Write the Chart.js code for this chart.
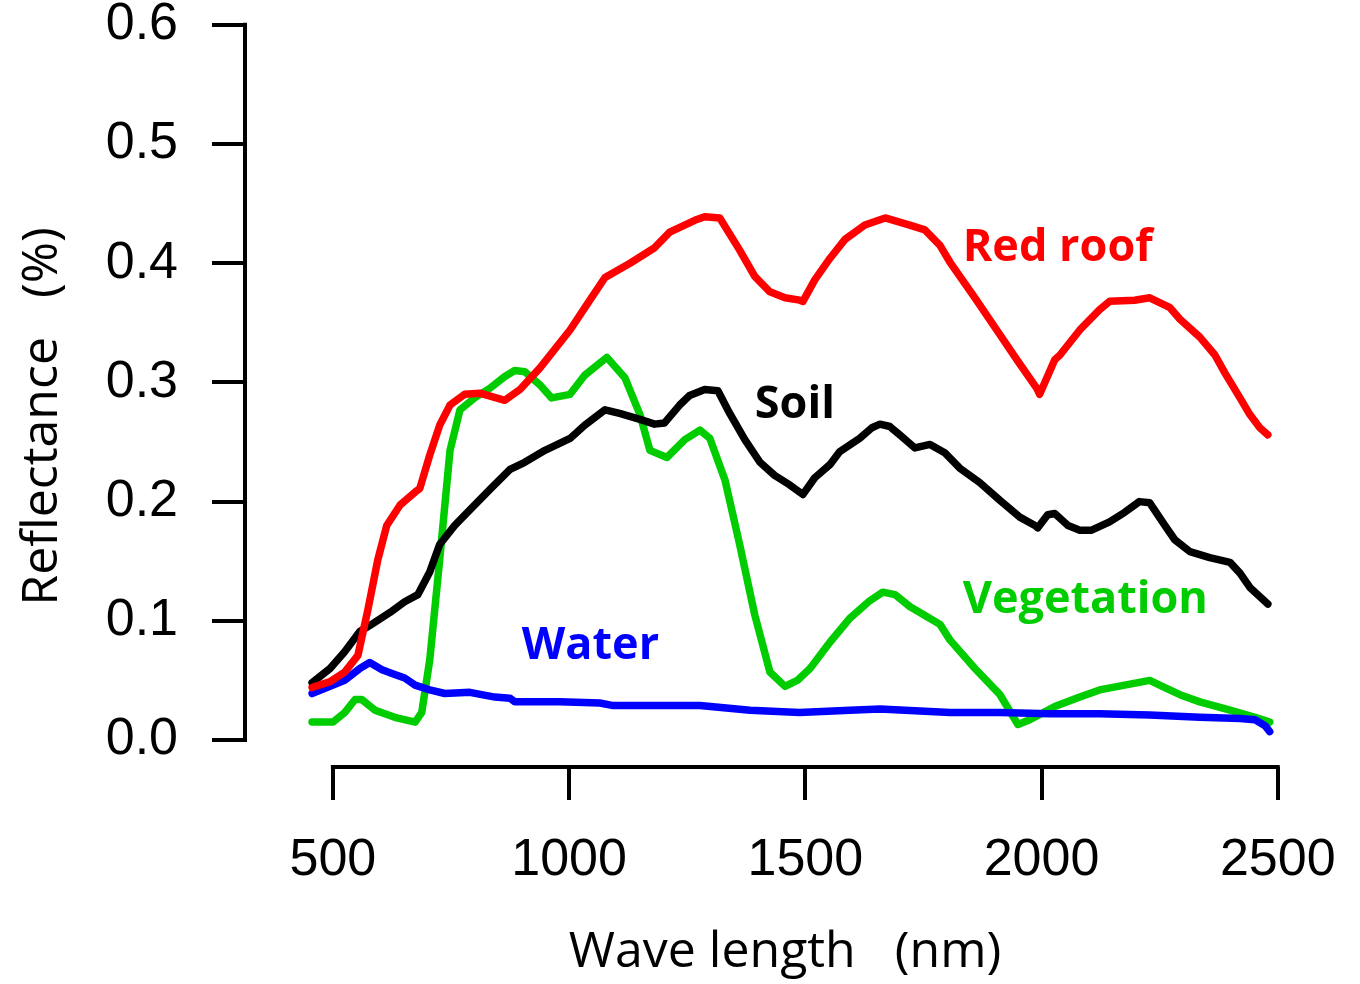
<!DOCTYPE html>
<html>
<head>
<meta charset="utf-8">
<script src="https://cdn.jsdelivr.net/npm/chart.js@4.4.1/dist/chart.umd.min.js"></script>
<style>
    html, body { margin: 0; padding: 0; background: #fff; }
    #wrap { position: relative; width: 1360px; height: 984px; }
</style>
</head>
<body>
<div id="wrap"><canvas id="chart"></canvas></div>
<script>
// wavelengths (nm) and reflectance
const redRoofNm = [ 456, 494, 525, 553, 574, 595, 614, 642, 674, 684, 705, 726, 748, 779, 811, 864, 896, 938, 1002, 1044, 1076, 1129, 1181, 1213, 1266, 1287, 1319, 1361, 1393, 1425, 1457, 1488, 1495, 1520, 1552, 1584, 1626, 1669, 1721, 1753, 1785, 1806, 1859, 1912, 1948, 1990, 1996, 2028, 2039, 2081, 2123, 2144, 2197, 2229, 2271, 2293, 2335, 2367, 2388, 2420, 2441, 2462, 2479 ];
const redRoofRefl = [ 0.044, 0.049, 0.057, 0.071, 0.109, 0.151, 0.180, 0.197, 0.208, 0.211, 0.239, 0.264, 0.281, 0.290, 0.291, 0.285, 0.294, 0.312, 0.344, 0.369, 0.388, 0.400, 0.413, 0.426, 0.436, 0.439, 0.438, 0.411, 0.389, 0.376, 0.371, 0.369, 0.368, 0.386, 0.404, 0.420, 0.432, 0.438, 0.432, 0.428, 0.415, 0.401, 0.371, 0.340, 0.319, 0.295, 0.290, 0.319, 0.323, 0.344, 0.361, 0.368, 0.369, 0.371, 0.363, 0.353, 0.338, 0.323, 0.308, 0.287, 0.273, 0.262, 0.256 ];

const soilNm = [ 456, 494, 525, 557, 578, 621, 652, 680, 705, 726, 758, 790, 832, 875, 906, 949, 1002, 1033, 1076, 1107, 1150, 1181, 1202, 1234, 1255, 1287, 1315, 1340, 1372, 1404, 1435, 1467, 1495, 1520, 1552, 1573, 1615, 1641, 1658, 1679, 1700, 1732, 1764, 1795, 1827, 1869, 1912, 1954, 1986, 1992, 2013, 2028, 2056, 2081, 2106, 2144, 2176, 2207, 2229, 2261, 2282, 2314, 2356, 2399, 2420, 2441, 2479 ];
const soilRefl = [ 0.048, 0.060, 0.074, 0.091, 0.096, 0.107, 0.116, 0.122, 0.141, 0.164, 0.180, 0.193, 0.210, 0.227, 0.233, 0.243, 0.253, 0.264, 0.277, 0.274, 0.269, 0.265, 0.266, 0.281, 0.289, 0.294, 0.293, 0.274, 0.252, 0.233, 0.222, 0.214, 0.206, 0.220, 0.231, 0.242, 0.253, 0.262, 0.265, 0.263, 0.256, 0.245, 0.248, 0.241, 0.228, 0.216, 0.201, 0.187, 0.180, 0.178, 0.189, 0.190, 0.180, 0.176, 0.176, 0.183, 0.191, 0.200, 0.199, 0.180, 0.168, 0.158, 0.153, 0.149, 0.140, 0.128, 0.114 ];

const waterNm = [ 456, 494, 525, 557, 578, 604, 631, 652, 674, 705, 737, 790, 843, 875, 885, 980, 1065, 1091, 1277, 1383, 1488, 1594, 1658, 1806, 1912, 2018, 2123, 2229, 2335, 2420, 2452, 2473, 2483 ];
const waterRefl = [ 0.039, 0.045, 0.050, 0.060, 0.065, 0.059, 0.055, 0.052, 0.046, 0.042, 0.039, 0.040, 0.036, 0.035, 0.032, 0.032, 0.031, 0.029, 0.029, 0.025, 0.023, 0.025, 0.026, 0.023, 0.023, 0.022, 0.022, 0.021, 0.019, 0.018, 0.017, 0.012, 0.007 ];

const vegNm = [ 456, 500, 525, 547, 561, 589, 631, 674, 688, 705, 726, 748, 769, 800, 832, 864, 885, 906, 938, 963, 1002, 1033, 1080, 1118, 1150, 1171, 1207, 1245, 1277, 1298, 1330, 1361, 1393, 1425, 1457, 1483, 1510, 1552, 1594, 1637, 1664, 1690, 1721, 1764, 1785, 1806, 1859, 1912, 1950, 1975, 2028, 2081, 2123, 2176, 2229, 2261, 2293, 2335, 2399, 2452, 2483 ];
const vegRefl = [ 0.015, 0.015, 0.023, 0.034, 0.034, 0.025, 0.019, 0.015, 0.023, 0.067, 0.151, 0.243, 0.277, 0.287, 0.295, 0.305, 0.310, 0.309, 0.298, 0.287, 0.290, 0.306, 0.321, 0.304, 0.273, 0.243, 0.237, 0.252, 0.260, 0.253, 0.218, 0.164, 0.105, 0.057, 0.045, 0.050, 0.060, 0.082, 0.102, 0.117, 0.124, 0.122, 0.112, 0.102, 0.097, 0.084, 0.060, 0.038, 0.013, 0.017, 0.028, 0.036, 0.042, 0.046, 0.050, 0.044, 0.038, 0.032, 0.025, 0.019, 0.015 ];

const xTicks = [ 500, 1000, 1500, 2000, 2500 ];
const yTicks = [ 0, 0.1, 0.2, 0.3, 0.4, 0.5, 0.6 ];

// in-plot series names, anchored at (nm, reflectance)
const seriesNames = [ 'Red roof', 'Soil', 'Water', 'Vegetation' ];
const nameNm = [ 1833, 1393, 900, 1833 ];
const nameRefl = [ 0.413, 0.281, 0.079, 0.117 ];
const nameColors = [ '#ff0000', '#000000', '#0000ff', '#00cc00' ];

const toPoints = ( xs, ys ) => xs.map( ( x, i ) => ( { x: x, y: ys[ i ] } ) );

Chart.defaults.animation = false;
Chart.defaults.responsive = true;
Chart.defaults.maintainAspectRatio = false;
Chart.defaults.color = '#000';
Chart.defaults.plugins.legend.display = false;
Chart.defaults.plugins.tooltip.enabled = false;

const lineStyle = {
    borderWidth: 7.5,
    pointRadius: 0,
    tension: 0,
    borderJoinStyle: 'round',
    borderCapStyle: 'round',
    fill: false
};

// R-style detached axis lines, only from first to last tick
const axisLines = {
    id: 'axisLines',
    afterDraw ( chart ) {
        const { ctx, chartArea, scales: { x, y } } = chart;
        ctx.save();
        ctx.strokeStyle = '#000';
        ctx.lineWidth = 4;
        ctx.lineCap = 'square';
        ctx.beginPath();
        ctx.moveTo( chartArea.left, y.getPixelForValue( yTicks[ 0 ] ) );
        ctx.lineTo( chartArea.left, y.getPixelForValue( yTicks[ yTicks.length - 1 ] ) );
        ctx.moveTo( x.getPixelForValue( xTicks[ 0 ] ), chartArea.bottom );
        ctx.lineTo( x.getPixelForValue( xTicks[ xTicks.length - 1 ] ), chartArea.bottom );
        ctx.stroke();
        ctx.restore();
    }
};

const seriesLabels = {
    id: 'seriesLabels',
    afterDatasetsDraw ( chart ) {
        const { ctx, scales: { x, y } } = chart;
        ctx.save();
        ctx.font = 'bold 45px "Open Sans", sans-serif';
        ctx.textAlign = 'left';
        ctx.textBaseline = 'middle';
        seriesNames.forEach( ( name, i ) => {
            ctx.fillStyle = nameColors[ i ];
            ctx.fillText( name, x.getPixelForValue( nameNm[ i ] ), y.getPixelForValue( nameRefl[ i ] ) );
        } );
        ctx.restore();
    }
};

new Chart( document.getElementById( 'chart' ), {
    type: 'line',
    data: {
        datasets: [ {
            label: 'Red roof',
            data: toPoints( redRoofNm, redRoofRefl ),
            borderColor: '#ff0000',
            ...lineStyle
        }, {
            label: 'Soil',
            data: toPoints( soilNm, soilRefl ),
            borderColor: '#000000',
            ...lineStyle
        }, {
            label: 'Water',
            data: toPoints( waterNm, waterRefl ),
            borderColor: '#0000ff',
            ...lineStyle
        }, {
            label: 'Vegetation',
            data: toPoints( vegNm, vegRefl ),
            borderColor: '#00cc00',
            ...lineStyle
        } ]
    },
    options: {
        layout: { padding: { top: 1, right: 35, left: 0, bottom: 0 } },
        scales: {
            x: {
                type: 'linear',
                min: 314,
                max: 2600,
                afterFit ( scale ) {
                    scale.height = 217;
                    scale.paddingLeft = 0;
                    scale.paddingRight = 0;
                },
                afterBuildTicks ( scale ) { scale.ticks = xTicks.map( v => ( { value: v } ) ); },
                border: { display: false },
                grid: {
                    drawOnChartArea: false,
                    drawTicks: true,
                    tickLength: 33,
                    lineWidth: 4,
                    color: '#000'
                },
                ticks: {
                    autoSkip: false,
                    maxRotation: 0,
                    padding: 29,
                    color: '#000',
                    font: { family: '"Liberation Sans", Arial, sans-serif', size: 52 },
                    callback: v => String( v )
                },
                title: {
                    display: true,
                    text: 'Wave length   (nm)',
                    color: '#000',
                    padding: { top: 0, bottom: 1 },
                    font: { family: '"Open Sans", sans-serif', size: 50, weight: 400 }
                }
            },
            y: {
                min: -0.02266,
                max: 0.62,
                afterFit ( scale ) {
                    scale.width = 245;
                    scale.paddingTop = 0;
                    scale.paddingBottom = 0;
                },
                afterBuildTicks ( scale ) { scale.ticks = yTicks.map( v => ( { value: v } ) ); },
                border: { display: false },
                grid: {
                    drawOnChartArea: false,
                    drawTicks: true,
                    tickLength: 33,
                    lineWidth: 4,
                    color: '#000'
                },
                ticks: {
                    autoSkip: false,
                    padding: 34,
                    color: '#000',
                    font: { family: '"Liberation Sans", Arial, sans-serif', size: 52 },
                    callback: v => v.toFixed( 1 )
                },
                title: {
                    display: true,
                    text: 'Reflectance   (%)     ',
                    color: '#000',
                    padding: { top: 13, bottom: 0 },
                    font: { family: '"Open Sans", sans-serif', size: 50, weight: 400 }
                }
            }
        }
    },
    plugins: [ axisLines, seriesLabels ]
} );
</script>
</body>
</html>
